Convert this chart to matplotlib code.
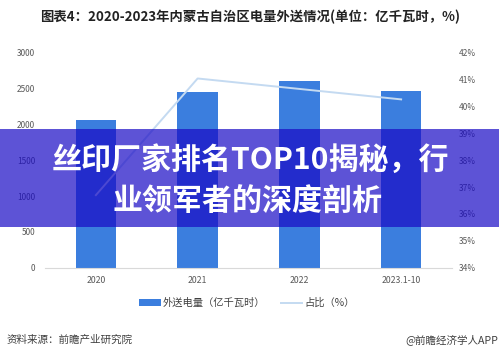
import matplotlib
matplotlib.use("Agg")
import matplotlib.pyplot as plt
from matplotlib.patches import Rectangle, Patch
from matplotlib.lines import Line2D
import numpy as np

plt.rcParams['font.family'] = ['Noto Sans CJK SC', 'DejaVu Sans']

categories = ["2020", "2021", "2022", "2023.1-10"]
power_out = [2059, 2455, 2608, 2468]
share_pct = [36.7, 41.05, 40.66, 40.27]
left_ticks = [0, 500, 1000, 1500, 2000, 2500, 3000]
right_ticks = [34, 35, 36, 37, 38, 39, 40, 41, 42]

title = "图表4：2020-2023年内蒙古自治区电量外送情况(单位：亿千瓦时，%)"
legend_bar = "外送电量（亿千瓦时）"
legend_line = "占比（%）"
source_left = "资料来源：前瞻产业研究院"
source_right = "@前瞻经济学人APP"
banner_lines = ["丝印厂家排名TOP10揭秘，行", "业领军者的深度剖析"]

W, H = 499, 358
fig = plt.figure(figsize=(W / 100, H / 100), dpi=100)
fig.patch.set_facecolor("white")

ax = fig.add_axes([45 / W, 1 - 267.5 / H, (452 - 45) / W, (267.5 - 53) / H])
x = np.arange(len(categories))
bar_color = "#3b7ede"
line_color = "#c4daf1"
tick_color = "#595959"

ax.bar(x, power_out, width=0.4, color=bar_color, zorder=2)
ax.set_xlim(-0.5, len(categories) - 0.5)
ax.set_ylim(0, 3000)
ax.set_yticks(left_ticks)
ax.set_xticks(x)
ax.set_xticklabels(categories)
for s in ["top", "left", "right"]:
    ax.spines[s].set_visible(False)
ax.spines["bottom"].set_color("#d9d9d9")
ax.spines["bottom"].set_linewidth(0.8)
ax.tick_params(axis="y", length=0, pad=7, labelsize=6, labelcolor=tick_color)
ax.tick_params(axis="x", length=0, pad=6, labelsize=6.3, labelcolor=tick_color)

ax2 = ax.twinx()
ax2.plot(x, share_pct, color=line_color, linewidth=1.4, zorder=3)
ax2.set_ylim(34, 42)
ax2.set_yticks(right_ticks)
ax2.set_yticklabels([f"{t}%" for t in right_ticks])
for s in ["top", "left", "right", "bottom"]:
    ax2.spines[s].set_visible(False)
ax2.tick_params(axis="y", length=0, pad=5, labelsize=6, labelcolor=tick_color)

handles = [Patch(facecolor=bar_color, edgecolor="none"),
           Line2D([0], [0], color=line_color, linewidth=1.4)]
fig.legend(handles, [legend_bar, legend_line], ncol=2, frameon=False,
           loc="center", bbox_to_anchor=(247 / W, 1 - 303 / H),
           fontsize=7.4, handlelength=2.1, handleheight=0.55,
           handletextpad=0.2, columnspacing=1.5, labelcolor="#404040")

fig.text(250 / W, 1 - 16.5 / H, title, ha="center", va="center",
         fontsize=9.6, fontweight="bold", color="#222222")

fig.text(7 / W, 1 - 340 / H, source_left, ha="left", va="center",
         fontsize=7.6, color="#404040")
fig.text(498 / W, 1 - 340 / H, source_right, ha="right", va="center",
         fontsize=7.6, color="#404040")

# overlay banner
banner = Rectangle((0, 1 - 227 / H), 1, (227 - 129) / H, transform=fig.transFigure,
                   facecolor=(25 / 255, 10 / 255, 197 / 255), alpha=0.7,
                   edgecolor="none", zorder=10)
fig.patches.append(banner)
fig.text(250.5 / W, 1 - 160 / H, banner_lines[0], ha="center", va="center",
         fontsize=21.6, fontweight="heavy", color="white", zorder=11)
fig.text(247.5 / W, 1 - 201.5 / H, banner_lines[1], ha="center", va="center",
         fontsize=21.6, fontweight="heavy", color="white", zorder=11)

fig.savefig("out.png", dpi=100, facecolor="white")
